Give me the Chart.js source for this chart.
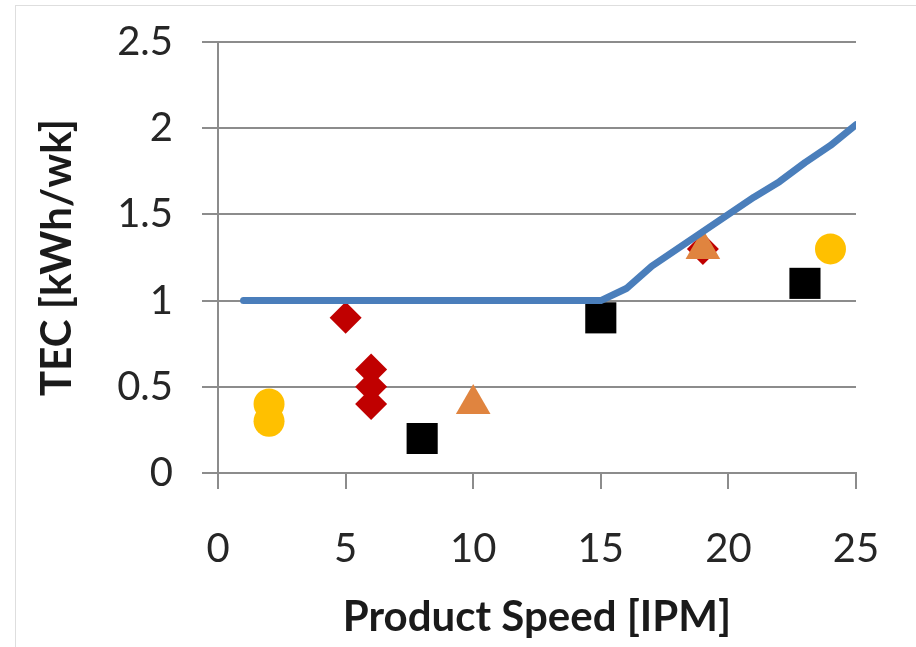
<!DOCTYPE html>
<html>
<head>
<meta charset="utf-8">
<script src="https://cdn.jsdelivr.net/npm/chart.js@4"></script>
<style>
  html, body { margin: 0; padding: 0; background: #fff; overflow: hidden; }
  .frame { position: absolute; left: 15px; top: 5px; width: 960px; height: 700px; border: 1px solid #dedede; }
  #tecChart { position: absolute; left: 0; top: 0; }
</style>
</head>
<body>
<div class="frame"></div>
<canvas id="tecChart" width="916" height="647"></canvas>
<script>
// TEC vs product speed, measured units against the limit line
const xTickLabels = ['0', '5', '10', '15', '20', '25'];
const yTickLabels = ['0', '0.5', '1', '1.5', '2', '2.5'];

const limitSpeed = [1, 2, 3, 4, 5, 6, 7, 8, 9, 10, 11, 12, 13, 14, 15, 16, 17, 18, 19, 20, 21, 22, 23, 24, 25];
const limitTec = [1, 1, 1, 1, 1, 1, 1, 1, 1, 1, 1, 1, 1, 1, 1, 1.07, 1.2, 1.3, 1.4, 1.5, 1.6, 1.69, 1.8, 1.9, 2.02];

const circleSpeed = [2, 2, 24];
const circleTec = [0.4, 0.3, 1.3];

const diamondSpeed = [5, 6, 6, 6, 19];
const diamondTec = [0.9, 0.6, 0.5, 0.4, 1.3];

const triangleSpeed = [10, 19];
const triangleTec = [0.4, 1.3];

const squareSpeed = [8, 15, 23];
const squareTec = [0.2, 0.9, 1.1];

const pts = (xs, ys) => xs.map((x, i) => ({ x: x, y: ys[i] }));

const markerSet = (xs, ys, color, style, radius, order) => ({
    type: 'scatter',
    data: pts(xs, ys),
    pointStyle: style,
    pointRadius: radius,
    pointHoverRadius: radius,
    pointBackgroundColor: color,
    pointBorderColor: color,
    pointBorderWidth: 0,
    order: order
});

const ctx = document.getElementById('tecChart').getContext('2d');
new Chart(ctx, {
    type: 'scatter',
    data: {
        datasets: [
            {
                type: 'line',
                data: pts(limitSpeed, limitTec),
                borderColor: '#4a7ebb',
                borderWidth: 7,
                borderCapStyle: 'round',
                borderJoinStyle: 'round',
                pointRadius: 0,
                tension: 0,
                fill: false,
                order: 0
            },
            markerSet(triangleSpeed, triangleTec, '#e0843f', 'triangle', 20, 1),
            markerSet(diamondSpeed, diamondTec, '#c00000', 'rectRot', 16, 2),
            markerSet(squareSpeed, squareTec, '#000000', 'rect', 22, 3),
            markerSet(circleSpeed, circleTec, '#ffc000', 'circle', 15.5, 4)
        ]
    },
    options: {
        responsive: false,
        animation: false,
        layout: { padding: { left: 0, top: 42, right: 60, bottom: 0 } },
        plugins: {
            legend: { display: false },
            tooltip: { enabled: false }
        },
        scales: {
            x: {
                type: 'linear',
                min: 0,
                max: 25,
                // fixed box so the plot area sits where it should
                afterFit: (scale) => {
                    scale.height = 174;
                    scale.paddingLeft = 0;
                    scale.paddingRight = 0;
                },
                ticks: {
                    stepSize: 5,
                    padding: 36,
                    color: '#262626',
                    font: { family: 'Lato', size: 40 },
                    callback: (v) => xTickLabels[Math.round(v / 5)]
                },
                grid: {
                    drawOnChartArea: false,
                    drawTicks: true,
                    tickLength: 16,
                    color: '#8c8c8c',
                    lineWidth: 2
                },
                border: { color: '#8c8c8c', width: 2 },
                title: {
                    display: true,
                    text: 'Product Speed [IPM]',
                    color: '#1a1a1a',
                    font: { family: 'Lato', size: 42, weight: 'bold' },
                    padding: { top: 0, bottom: 4 }
                }
            },
            y: {
                type: 'linear',
                min: 0,
                max: 2.5,
                afterFit: (scale) => {
                    scale.width = 218;
                    scale.paddingTop = 0;
                    scale.paddingBottom = 0;
                },
                ticks: {
                    stepSize: 0.5,
                    padding: 29,
                    color: '#262626',
                    font: { family: 'Lato', size: 40 },
                    callback: (v) => yTickLabels[Math.round(v / 0.5)]
                },
                grid: {
                    drawTicks: true,
                    tickLength: 16,
                    color: '#8c8c8c',
                    lineWidth: 2
                },
                border: { color: '#8c8c8c', width: 2 },
                title: {
                    display: true,
                    text: 'TEC [kWh/wk]',
                    color: '#1a1a1a',
                    font: { family: 'Lato', size: 42, weight: 'bold' },
                    padding: { top: 32, bottom: 0 }
                }
            }
        }
    }
});
</script>
</body>
</html>
